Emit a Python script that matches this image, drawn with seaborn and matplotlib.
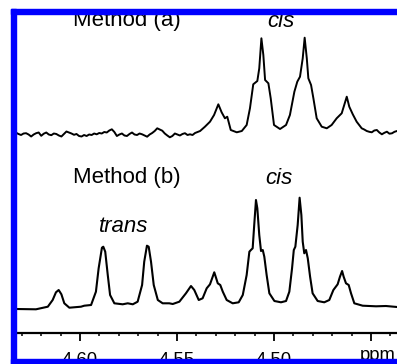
import matplotlib
matplotlib.use("Agg")
import matplotlib.pyplot as plt
from matplotlib.patches import Rectangle
import seaborn as sns
import pandas as pd

# ---- data (chemical shift in ppm, intensity in arbitrary units) ----
ppm_b = [4.6330, 4.6227, 4.6166, 4.6141, 4.6124, 4.6110, 4.6096, 4.6081, 4.6055,
         4.5995, 4.5978, 4.5943, 4.5918, 4.5904, 4.5887, 4.5880, 4.5870, 4.5857,
         4.5845, 4.5823, 4.5780, 4.5754, 4.5728, 4.5703, 4.5680, 4.5669, 4.5655,
         4.5646, 4.5634, 4.5620, 4.5599, 4.5574, 4.5540, 4.5522, 4.5488, 4.5454,
         4.5428, 4.5411, 4.5388, 4.5368, 4.5347, 4.5330, 4.5316, 4.5308, 4.5299,
         4.5290, 4.5277, 4.5264, 4.5244, 4.5213, 4.5182, 4.5161, 4.5141, 4.5127,
         4.5119, 4.5110, 4.5102, 4.5093, 4.5086, 4.5076, 4.5067, 4.5058, 4.5050,
         4.5038, 4.5024, 4.4998, 4.4964, 4.4938, 4.4921, 4.4907, 4.4898, 4.4890,
         4.4878, 4.4868, 4.4859, 4.4852, 4.4844, 4.4835, 4.4826, 4.4814, 4.4801,
         4.4775, 4.4741, 4.4715, 4.4694, 4.4672, 4.4660, 4.4649, 4.4641, 4.4629,
         4.4615, 4.4603, 4.4586, 4.4543, 4.4474, 4.4423, 4.4366]
int_b = [0, -0.3, 2.3, 9, 16.7, 19, 14.7, 5.7, 1.3,
         2.3, 3.3, 4, 17.3, 40.7, 61.3, 62.3, 57.3, 34,
         14, 5.7, 4.7, 5.7, 4.7, 7.3, 24, 47.3, 63.3,
         62.3, 47.3, 24, 9, 5.7, 5.7, 5, 7.3, 15.7,
         23, 19, 9, 10.7, 20.7, 24.7, 32.3, 36.7, 31.3,
         25.7, 24, 17.3, 9, 5.7, 6.7, 14, 34, 57.3,
         59, 60.7, 84, 109, 100.7, 74, 58, 59, 52.3,
         34, 15.7, 8, 6.7, 8, 17.3, 40.7, 59, 62.3,
         84, 111.3, 94, 67.3, 55.7, 59, 50.7, 32.3, 15.7,
         8, 6.7, 9, 19, 24.7, 32.3, 38, 32.3, 25.7,
         24, 15.7, 5.7, 3.3, 2.7, 3, 2]

ppm_a = [4.6330, 4.6317, 4.6304, 4.6291, 4.6278, 4.6265, 4.6252, 4.6239, 4.6226, 4.6213,
         4.6200, 4.6187, 4.6174, 4.6161, 4.6148, 4.6135, 4.6122, 4.6109, 4.6096, 4.6083,
         4.6070, 4.6057, 4.6044, 4.6031, 4.6018, 4.6005, 4.5992, 4.5979, 4.5966, 4.5953,
         4.5940, 4.5927, 4.5914, 4.5901, 4.5888, 4.5875, 4.5862, 4.5849, 4.5836, 4.5823,
         4.5810, 4.5797, 4.5784, 4.5771, 4.5758, 4.5745, 4.5732, 4.5719, 4.5706, 4.5693,
         4.5680, 4.5667, 4.5654, 4.5641, 4.5628, 4.5615, 4.5602, 4.5589, 4.5576, 4.5563,
         4.5550, 4.5537, 4.5524, 4.5511, 4.5498, 4.5485, 4.5472, 4.5459, 4.5446, 4.5433,
         4.5420, 4.5407,
         4.5381, 4.5356, 4.5330, 4.5309, 4.5287, 4.5270, 4.5253, 4.5241,
         4.5223, 4.5192, 4.5166, 4.5141, 4.5124, 4.5107, 4.5086, 4.5076, 4.5065,
         4.5055, 4.5046, 4.5029, 4.5017, 4.5000, 4.4969, 4.4938, 4.4918, 4.4895,
         4.4880, 4.4866, 4.4852, 4.4842, 4.4831, 4.4823, 4.4809, 4.4797, 4.4780,
         4.4754, 4.4728, 4.4703, 4.4677, 4.4651, 4.4625, 4.4612, 4.4594, 4.4574,
         4.4548, 4.4535, 4.4522, 4.4509, 4.4496, 4.4483, 4.4470, 4.4457, 4.4444,
         4.4431, 4.4418, 4.4405, 4.4392, 4.4379, 4.4366]
int_a = [1.3, 0, -1, 0.5, 0.8, -0.5, -2.5, -0.5, 0.8, 1.5,
         -1.8, 0.3, 1.5, -0.5, -1.2, 0.5, 0, -1.5, -2.5, 0,
         2.5, 1.5, 0.5, -0.8, 0, -2, -2.5, -1, -2, -0.5,
         -1, 0.5, -0.3, 1, 0.5, 2, 1.5, 3.5, 4.7, 2,
         -2, -0.5, 0.5, -1.5, -2, 0, 1.5, -0.5, -1, 0.5,
         -0.3, -1.5, -2.7, -0.5, 1, 3, 5.7, 4.5, 3.3, 0.5,
         -1.5, -3.3, -2, 0.5, -0.5, -1.5, 0, 0.8, -1, -0.3,
         -1, 1,
         3, 7.3, 12.3, 19, 29.7, 21.7, 15.7, 17.3,
         4, 1.7, 3, 9, 25.7, 49.7, 53, 65.7, 95.7,
         79, 54, 50.7, 35.7, 9, 5, 9, 19, 42.3,
         52.3, 57.3, 75.7, 96.3, 75.7, 55.7, 49, 35.7, 15.7,
         7.3, 5.7, 9, 15.7, 20.7, 37.3, 27.3, 19.7, 12.3,
         5.7, 4.5, 3, 2.2, 1.7, 3.5, 4, 1.5, -0.3,
         1.2, 2.3, 0.3, 0.7, 2.2, 3]

offset_a = 175
tick_values = [4.60, 4.55, 4.50, 4.45]
tick_labels = ["4.60", "4.55", "4.50", ""]
minor_ticks = [4.63, 4.62, 4.61, 4.59, 4.58, 4.57, 4.56, 4.54, 4.53, 4.52,
               4.51, 4.49, 4.48, 4.47, 4.46, 4.44]
unit_label = "ppm"

df_b = pd.DataFrame({"ppm": ppm_b, "I": int_b})
df_a = pd.DataFrame({"ppm": ppm_a, "I": [v + offset_a for v in int_a]})

# ---- figure ----
sns.set_theme(style="white")
plt.rcParams["font.family"] = ["Liberation Sans", "DejaVu Sans"]
plt.rcParams["text.color"] = "black"
plt.rcParams["xtick.color"] = "black"
plt.rcParams["xtick.labelcolor"] = "black"

W, H = 397, 364
fig = plt.figure(figsize=(W / 100, H / 100), dpi=100)
ax = fig.add_axes([16 / W, 31 / H, 381 / W, 333 / H])

sns.lineplot(data=df_b, x="ppm", y="I", ax=ax, color="black", lw=1.5,
             estimator=None, sort=False)
sns.lineplot(data=df_a, x="ppm", y="I", ax=ax, color="black", lw=1.4,
             estimator=None, sort=False)

ax.set_xlim(4.6330, 4.4366)
ax.set_ylim(-24, 309)
ax.set_xlabel("")
ax.set_ylabel("")
ax.set_yticks([])
for s in ["top", "left", "right"]:
    ax.spines[s].set_visible(False)
ax.spines["bottom"].set_linewidth(1.6)
ax.spines["bottom"].set_color("black")

ax.set_xticks(tick_values)
ax.set_xticklabels(tick_labels)
ax.set_xticks(minor_ticks, minor=True)
ax.tick_params(axis="x", which="major", direction="out", length=6, width=1.3,
               color="black", labelcolor="black", labelsize=13.3, pad=8, bottom=True)
ax.tick_params(axis="x", which="minor", direction="out", length=2.5, width=1.1,
               color="black", bottom=True)

ax.text(4.4464, -24 - 27, unit_label, fontsize=13.3, ha="center",
        va="baseline", clip_on=False, color="black")

txt = dict(fontsize=16, ha="center", va="baseline", color="black")
ax.text(4.5758, 283, "Method (a)", **txt)
ax.text(4.4964, 282, "cis", style="italic", **txt)
ax.text(4.5758, 126, "Method (b)", **txt)
ax.text(4.4974, 125, "cis", style="italic", **txt)
ax.text(4.5773, 77, "trans", style="italic", **txt)

# blue frame
blue = "#0000ff"
fig.patches.append(Rectangle((11 / W, 0), 5 / W, 355 / H, transform=fig.transFigure,
                             color=blue, zorder=10))
fig.patches.append(Rectangle((11 / W, (H - 14) / H), (W - 11) / W, 5 / H,
                             transform=fig.transFigure, color=blue, zorder=10))
fig.patches.append(Rectangle((11 / W, 0), (W - 11) / W, 5 / H,
                             transform=fig.transFigure, color=blue, zorder=10))

fig.savefig("out.png", dpi=100)
